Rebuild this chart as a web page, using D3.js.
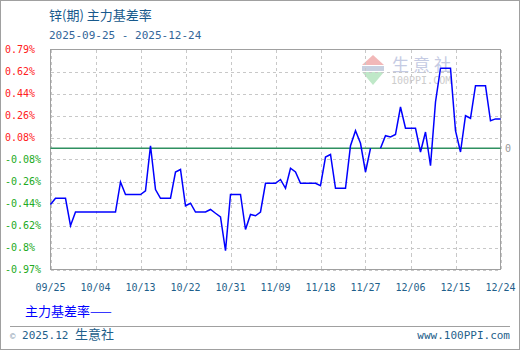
<!DOCTYPE html>
<html><head><meta charset="utf-8">
<script src="https://cdn.jsdelivr.net/npm/d3@7"></script>
<style>html,body{margin:0;padding:0;background:#fff;}svg{display:block;}</style>
</head><body>
<svg id="chart" width="520" height="350"></svg>
<script>
const titleText = "锌(期) 主力基差率";
const subtitleText = "2025-09-25 - 2025-12-24";
const startDate = "2025-09-25";
const endDate = "2025-12-24";
// daily values (%), one per calendar day from 2025-09-25
const basisRate = [
  -0.45, -0.40, -0.40, -0.40, -0.62, -0.51, -0.51, -0.51, -0.51, -0.51,
  -0.51, -0.51, -0.51, -0.51, -0.27, -0.37, -0.37, -0.37, -0.37, -0.34,
   0.02, -0.33, -0.40, -0.40, -0.40, -0.19, -0.17, -0.46, -0.44, -0.51,
  -0.51, -0.51, -0.49, -0.52, -0.55, -0.82, -0.37, -0.37, -0.37, -0.65,
  -0.53, -0.54, -0.51, -0.28, -0.28, -0.28, -0.25, -0.32, -0.16, -0.19,
  -0.28, -0.28, -0.28, -0.28, -0.30, -0.07, -0.05, -0.32, -0.32, -0.32,
   0.02,  0.14,  0.04, -0.19,  0.00,  null,  0.00,  0.10,  0.09,  0.11,
   0.33,  0.16,  0.16,  0.16, -0.03,  0.13, -0.14,  0.37,  0.64,  0.64,
   0.64,  0.14, -0.03,  0.26,  0.24,  0.50,  0.50,  0.50,  0.22,  0.235,
   0.235
];
const xTickLabels = ["09/25","10/04","10/13","10/22","10/31","11/09","11/18","11/27","12/06","12/15","12/24"];
const yTickLabels = ["-0.97%","-0.8%","-0.62%","-0.44%","-0.26%","-0.08%","0.08%","0.26%","0.44%","0.62%","0.79%"];
const yMin = -0.97, yMax = 0.79;
const legendLabel = "主力基差率";
const footerLeft = "2025.12";
const footerBrand = "生意社";
const footerRight = "www.100PPI.com";

const svg = d3.select("#chart");
const parse = d3.utcParse("%Y-%m-%d");
const d0 = parse(startDate), d1 = parse(endDate);
const data = basisRate.map((v, i) => ({date: d3.utcDay.offset(d0, i), value: v}));

const L = 50.5, R = 500.5, T = 49.5, B = 269.5;
const x = d3.scaleUtc().domain([d0, d1]).range([L, R]);
const y = d3.scaleLinear().domain([yMin, yMax]).range([B, T]);

const mono = "'DejaVu Sans Mono', 'Liberation Mono', monospace";
const cjk = "'Noto Sans CJK SC', sans-serif";

// outer frame
svg.append("rect").attr("x",0.5).attr("y",0.5).attr("width",519).attr("height",349)
  .attr("fill","#fff").attr("stroke","#a0a0a0");

// title
svg.append("text").attr("x",49).attr("y",20).attr("font-family",cjk).attr("font-size",13)
  .attr("fill","#17598c").text(titleText);
svg.append("text").attr("x",49).attr("y",39).attr("font-family",mono).attr("font-size",11)
  .attr("fill","#336699").text(subtitleText);

// watermark
const wm = svg.append("g");
wm.append("path").attr("d", `M373,55 L384,65 L362,65 Z`).attr("fill","#f2b8b8");
wm.append("rect").attr("x",362).attr("y",66).attr("width",22).attr("height",5).attr("fill","#c8d0e0");
wm.append("path").attr("d", `M362,72 L384,72 L373,85 Z`).attr("fill","#bfe8c8");
wm.append("text").attr("x",392).attr("y",71).attr("font-family",cjk).attr("font-size",17)
  .attr("letter-spacing",4).attr("fill","#c5cbe3").text(footerBrand);
wm.append("text").attr("x",391).attr("y",84).attr("font-family",mono).attr("font-size",10)
  .attr("fill","#cccccc").text("100PPI.COM");

// grid
const yTicks = d3.range(yTickLabels.length).map(i => yMin + i*(yMax-yMin)/(yTickLabels.length-1));
const xTicks = d3.range(xTickLabels.length).map(i => new Date(+d0 + i*(d1-d0)/(xTickLabels.length-1)));
const grid = svg.append("g").attr("stroke","#c8c8c8").attr("stroke-dasharray","3,3").attr("shape-rendering","crispEdges");
grid.selectAll("line.h").data(yTicks).join("line").attr("class","h")
  .attr("x1",L).attr("x2",R).attr("y1",d=>Math.round(y(d))+0.5).attr("y2",d=>Math.round(y(d))+0.5);
grid.selectAll("line.v").data(xTicks).join("line").attr("class","v")
  .attr("x1",d=>Math.round(x(d))+0.5).attr("x2",d=>Math.round(x(d))+0.5).attr("y1",T).attr("y2",B);

// frame of plot
svg.append("rect").attr("x",L).attr("y",T).attr("width",R-L).attr("height",B-T)
  .attr("fill","none").attr("stroke","#a0a0a0").attr("shape-rendering","crispEdges");

// y labels
svg.append("g").selectAll("text").data(yTicks).join("text")
  .attr("x",5).attr("y",d=>y(d)+3).attr("font-family",mono).attr("font-size",10)
  .attr("fill",d=>d>0?"#ff2020":"#22aa22").text((d,i)=>yTickLabels[i]);

// x labels
svg.append("g").selectAll("text").data(xTicks).join("text")
  .attr("x",d=>x(d)).attr("y",291).attr("text-anchor","middle").attr("font-family",mono).attr("font-size",10)
  .attr("fill","#1f5f8b").text((d,i)=>xTickLabels[i]);

// zero line
svg.append("line").attr("x1",L).attr("x2",R).attr("y1",y(0)).attr("y2",y(0))
  .attr("stroke","#2e9060").attr("stroke-width",1.5);
svg.append("text").attr("x",505).attr("y",y(0)+4).attr("font-family",mono).attr("font-size",10)
  .attr("fill","#999").text("0");

// series
const line = d3.line().defined(d=>d.value!==null).x(d=>x(d.date)).y(d=>y(d.value));
svg.append("path").datum(data).attr("d",line).attr("fill","none")
  .attr("stroke","#0000ff").attr("stroke-width",1.5);

// legend
svg.append("text").attr("x",25).attr("y",316).attr("font-family",cjk).attr("font-size",13)
  .attr("fill","#0000ff").text(legendLabel + "——");

// footer
svg.append("line").attr("x1",10).attr("x2",510).attr("y1",326.5).attr("y2",326.5).attr("stroke","#a0a0a0");
const ft = svg.append("text").attr("x",10).attr("y",339).attr("fill","#1f5f8b");
ft.append("tspan").attr("font-family",mono).attr("font-size",9).attr("fill","#8aa0b0").text("©");
ft.append("tspan").attr("font-family",mono).attr("font-size",11).text(" " + footerLeft + " ");
ft.append("tspan").attr("font-family",cjk).attr("font-size",13).text(footerBrand);
svg.append("text").attr("x",510).attr("y",339).attr("text-anchor","end").attr("font-family",mono)
  .attr("font-size",11).attr("fill","#1f5f8b").text(footerRight);
</script>
</body></html>
